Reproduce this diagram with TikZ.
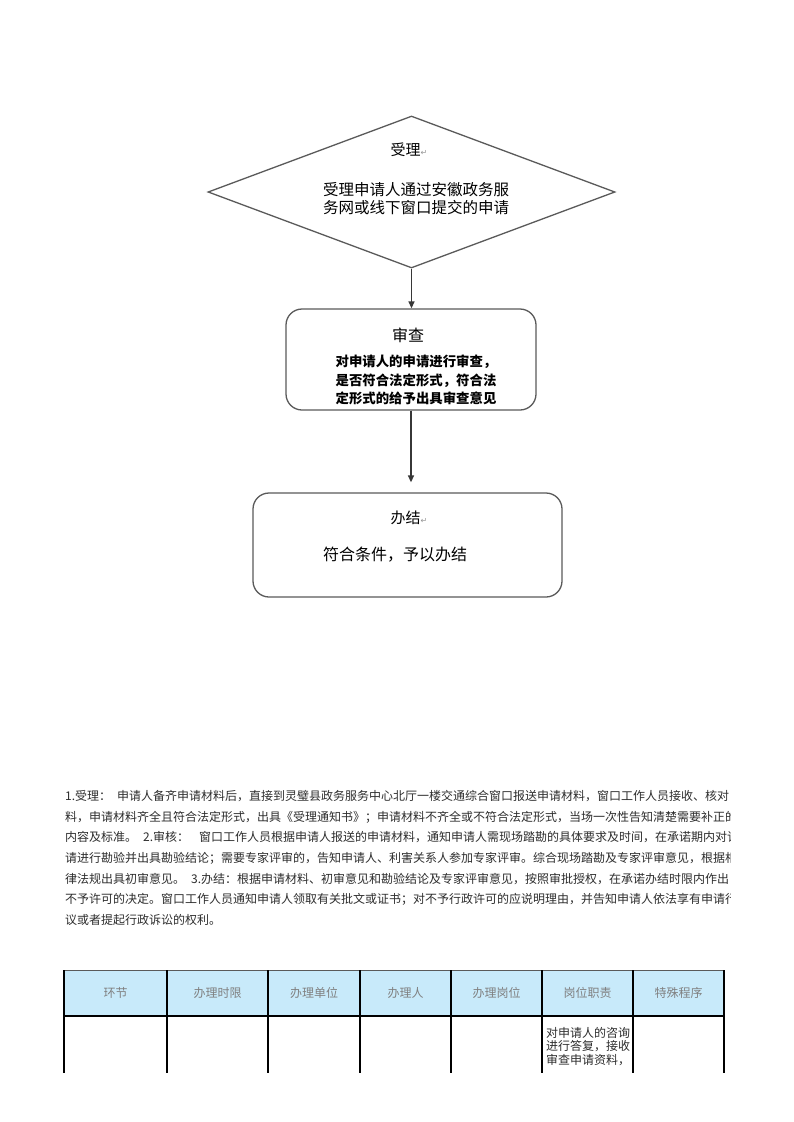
\documentclass[tikz,border=0pt]{standalone}
\usepackage{fontspec}
\usepackage{xcolor}
\usetikzlibrary{arrows.meta,shapes.geometric,positioning}
\setmainfont{Noto Sans CJK SC}
\newfontfamily\symfont{DejaVu Sans}
\definecolor{LineGray}{RGB}{90,90,90}
\definecolor{ArrowGray}{RGB}{55,55,55}
\definecolor{HeadBlue}{RGB}{200,234,250}
\definecolor{HeadText}{RGB}{128,128,128}
\definecolor{BodyText}{RGB}{45,45,45}
\definecolor{MarkGray}{RGB}{150,150,150}
\newcommand{\retmark}{{\symfont\fontsize{8}{8}\selectfont\color{MarkGray}↵}}

\begin{document}
\begin{tikzpicture}[x=1pt,y=-1pt,
    shapeline/.style={draw=LineGray, line width=1.3pt},
    flowbox/.style={shapeline, rounded corners=16pt, inner sep=0pt},
    arr/.style={-{Triangle[length=7pt,width=6pt]}, line width=1.4pt, draw=ArrowGray, fill=ArrowGray},
    para/.style={anchor=west, inner sep=0pt, font=\fontsize{12}{12}\selectfont, text=BodyText},
    headcell/.style={font=\fontsize{12}{12}\selectfont, text=HeadText},
    grid/.style={line width=1.2pt, draw=black}]
  \useasboundingbox (0,0) rectangle (793,1122);
  \fill[white] (0,0) rectangle (793,1122);
  % flow chart
  \node[diamond, shapeline, minimum width=407pt, minimum height=152pt, inner sep=0pt] (accept) at (411.5,192) {};
  \node[font=\fontsize{15}{15}\selectfont] (acceptTitle) at (409,150) {受理\retmark};
  \node[align=center, font=\fontsize{15.5}{18}\selectfont, inner sep=0pt] (acceptText) at (416,199) {受理申请人通过安徽政务服\\务网或线下窗口提交的申请};
  \node[flowbox, minimum width=250pt, minimum height=101pt] (review) at (411,359.5) {};
  \node[font=\fontsize{16}{16}\selectfont] (reviewTitle) at (408,335) {审查};
  \node[align=center, font=\bfseries\fontsize{13.4}{18.5}\selectfont, inner sep=0pt] (reviewText) at (416,380) {对申请人的申请进行审查，\\是否符合法定形式，符合法\\定形式的给予出具审查意见};
  \node[flowbox, minimum width=309pt, minimum height=104pt] (finish) at (407.5,545) {};
  \node[font=\fontsize{15}{15}\selectfont] (finishTitle) at (409,518) {办结\retmark};
  \node[font=\fontsize{16}{16}\selectfont] (finishText) at (395,555) {符合条件，予以办结};
  \draw[arr] (accept.south) -- (accept.south |- review.north);
  \draw[arr] (review.south) -- ([yshift=10pt]review.south |- finish.north);
  % notes
  \begin{scope}
    \clip (60,780) rectangle (730,960);
    \node[para] (para1) at (65,796) {1.受理：\hspace{6pt}申请人备齐申请材料后，直接到灵璧县政务服务中心北厅一楼交通综合窗口报送申请材料，窗口工作人员接收、核对};
    \node[para] (para2) at (65,817) {料，申请材料齐全且符合法定形式，出具《受理通知书》；申请材料不齐全或不符合法定形式，当场一次性告知清楚需要补正的};
    \node[para] (para3) at (65,837) {内容及标准。\hspace{6pt}2.审核：\hspace{10pt}窗口工作人员根据申请人报送的申请材料，通知申请人需现场踏勘的具体要求及时间，在承诺期内对该};
    \node[para] (para4) at (65,858) {请进行勘验并出具勘验结论；需要专家评审的，告知申请人、利害关系人参加专家评审。综合现场踏勘及专家评审意见，根据相};
    \node[para] (para5) at (65,879) {律法规出具初审意见。\hspace{6pt}3.办结：根据申请材料、初审意见和勘验结论及专家评审意见，按照审批授权，在承诺办结时限内作出};
    \node[para] (para6) at (65,899) {不予许可的决定。窗口工作人员通知申请人领取有关批文或证书；对不予行政许可的应说明理由，并告知申请人依法享有申请行};
    \node[para] (para7) at (65,920) {议或者提起行政诉讼的权利。};
  \end{scope}
  % table
  \fill[HeadBlue] (64,970) rectangle (724,1016);
  \draw[line width=0.8pt, draw=LineGray] (64,970) -- (724,970);
  \draw[line width=1.8pt] (64,1016) -- (724,1016);
  \foreach \xl/\xr/\lab [count=\i] in {64/167/环节, 167/268/办理时限, 268/360/办理单位, 360/451/办理人, 451/542/办理岗位, 542/633/岗位职责, 633/724/特殊程序}
    \node[headcell] (head\i) at ({(\xl+\xr)/2},993) {\lab};
  \foreach \xc in {64,167,268,360,451,542,633,724}
    \draw[grid] (\xc,970) -- (\xc,1073);
  \node[anchor=north west, align=left, inner sep=0pt, font=\fontsize{12}{13.5}\selectfont, text=BodyText] (duty) at (546,1027) {对申请人的咨询\\进行答复，接收\\审查申请资料，};
\end{tikzpicture}
\end{document}
